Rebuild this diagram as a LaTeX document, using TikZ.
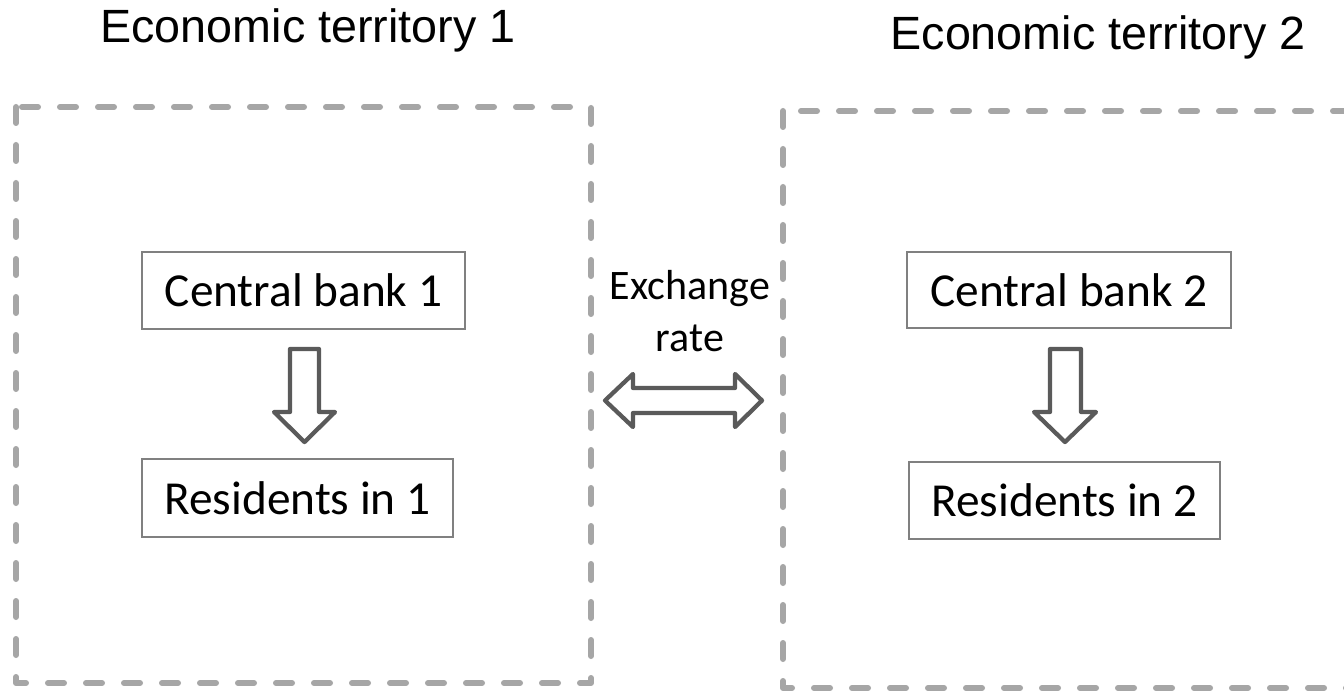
\documentclass[tikz,border=0pt]{standalone}
\usepackage{fontspec}
\setmainfont{Carlito}
\newfontfamily\titlefont{Liberation Sans}
\definecolor{dashgray}{HTML}{A6A6A6}
\definecolor{boxgray}{HTML}{808080}
\definecolor{arrowgray}{HTML}{5A5A5A}
\begin{document}
\begin{tikzpicture}[x=0.75pt,y=-0.75pt,
  territory/.style={draw=dashgray,line width=4.5pt,line cap=round,line join=round,dash pattern=on 12pt off 16.5pt},
  bankbox/.style={draw=boxgray,line width=1.1pt,fill=white,inner sep=0pt,font=\fontsize{35.5}{42}\selectfont},
  blockarrow/.style={draw=arrowgray,line width=3.2pt,line join=round,fill=white},
  titletext/.style={font=\titlefont\fontsize{35}{42}\selectfont,anchor=base,inner sep=0pt},
  exlabel/.style={font=\fontsize{31.5}{39}\selectfont,align=center,inner sep=0pt}]
\clip (0,0) rectangle (1344,691);
\fill[white] (0,0) rectangle (1344,691);
% territories
\draw[territory] (16,107) rectangle (591,683);
\draw[territory] (783,111) rectangle (1420,688);
% titles
\node[titletext] (t1) at (308,43) {Economic territory 1};
\node[titletext] (t2) at (1098,50) {Economic territory 2};
% boxes
\node[bankbox,minimum width=242.25pt,minimum height=57.75pt] (cb1) at (303.5,290.5) {Central bank 1};
\node[bankbox,minimum width=233.25pt,minimum height=58.5pt] (r1) at (297.5,498) {Residents in 1};
\node[bankbox,minimum width=243pt,minimum height=57pt] (cb2) at (1069,290) {Central bank 2};
\node[bankbox,minimum width=233.25pt,minimum height=57.75pt] (r2) at (1064.5,500.5) {Residents in 2};
% down arrows
\draw[blockarrow] (290,349) -- (319,349) -- (319,412) -- (335,412) -- (304.5,442) -- (274,412) -- (290,412) -- cycle;
\draw[blockarrow] (1050,349) -- (1081,349) -- (1081,412) -- (1096,412) -- (1065,442) -- (1034,412) -- (1050,412) -- cycle;
% exchange arrow
\draw[blockarrow] (605,400.5) -- (633,374) -- (633,388) -- (735,388) -- (735,374) -- (762,400.5) -- (735,427) -- (735,413) -- (633,413) -- (633,427) -- cycle;
\node[exlabel,anchor=north] (ex) at (690,270) {Exchange\\rate};
\end{tikzpicture}
\end{document}
